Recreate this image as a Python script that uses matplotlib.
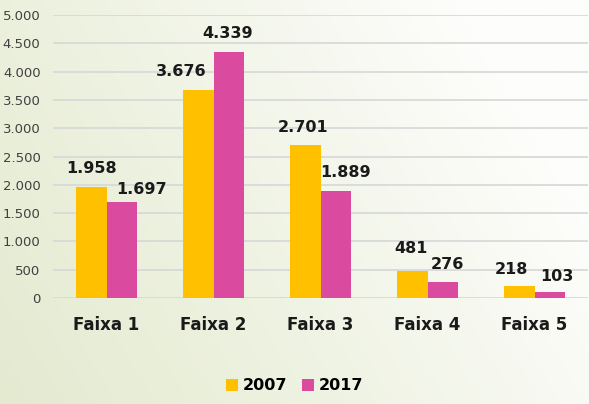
import matplotlib.pyplot as plt
import numpy as np
from matplotlib.colors import LinearSegmentedColormap
from matplotlib.ticker import FuncFormatter

categories = ['Faixa 1', 'Faixa 2', 'Faixa 3', 'Faixa 4', 'Faixa 5']
v2007 = [1958, 3676, 2701, 481, 218]
v2017 = [1697, 4339, 1889, 276, 103]
series_names = ['2007', '2017']

# label nudges in pixels (dx, dy above bar top), as placed in the original
nudge2007 = [(0, 14), (-17, 14), (-2, 13), (-1, 18), (-8, 12)]
nudge2017 = [(20, 8), (-1, 14), (10, 14), (5, 13), (7, 11)]

yellow = '#FFC000'
pink = '#DA4A9E'

fig = plt.figure(figsize=(5.89, 4.04), dpi=100)

# background gradient: greenish left/bottom to white top-right
bg = fig.add_axes([0, 0, 1, 1])
bg.set_axis_off()
xx, yy = np.meshgrid(np.linspace(0, 1, 200), np.linspace(0, 1, 200))
t = np.clip(0.85 * xx + 0.35 * yy, 0, 1)
cmap = LinearSegmentedColormap.from_list('bg', ['#e4ead0', '#eff3e3', '#fdfdfb'])
bg.imshow(t, cmap=cmap, origin='lower', aspect='auto', extent=[0, 1, 0, 1])

ax = fig.add_axes([53 / 589, (404 - 298) / 404, 535 / 589, 283 / 404])
ax.patch.set_alpha(0)

x = np.arange(len(categories))
w = 0.285
b1 = ax.bar(x - w / 2, v2007, w, color=yellow, label=series_names[0], zorder=3)
b2 = ax.bar(x + w / 2, v2017, w, color=pink, label=series_names[1], zorder=3)

fmt = lambda v: f'{v:,.0f}'.replace(',', '.')
px = 0.72  # points per pixel at 100 dpi
for bars, nudges in ((b1, nudge2007), (b2, nudge2017)):
    for r, (dx, dy) in zip(bars, nudges):
        h = r.get_height()
        ax.annotate(fmt(h), (r.get_x() + r.get_width() / 2, h),
                    xytext=(dx * px, dy * px), textcoords='offset points',
                    ha='center', va='baseline', fontsize=11.5, fontweight='bold',
                    color='#1a1a1a')

ax.set_xlim(-0.5, 4.5)
ax.set_ylim(0, 5000)
ax.set_yticks(np.arange(0, 5001, 500))
ax.yaxis.set_major_formatter(FuncFormatter(lambda v, p: fmt(v)))
ax.grid(axis='y', color='#d9d9d9', linewidth=1.3, zorder=0)
for s in ax.spines.values():
    s.set_visible(False)
ax.tick_params(axis='y', length=0, labelsize=9.5, labelcolor='#404040', pad=9)
ax.set_xticks(x)
ax.set_xticklabels(categories, fontsize=12, fontweight='bold', color='#1a1a1a')
ax.tick_params(axis='x', length=0, pad=13)

fig.legend(loc='center', bbox_to_anchor=(0.5, (404 - 386) / 404), ncol=2, frameon=False,
           prop={'size': 11.5, 'weight': 'bold'}, handlelength=0.75, handleheight=0.75,
           handletextpad=0.3, columnspacing=0.9)

fig.savefig('out.png', dpi=100)
